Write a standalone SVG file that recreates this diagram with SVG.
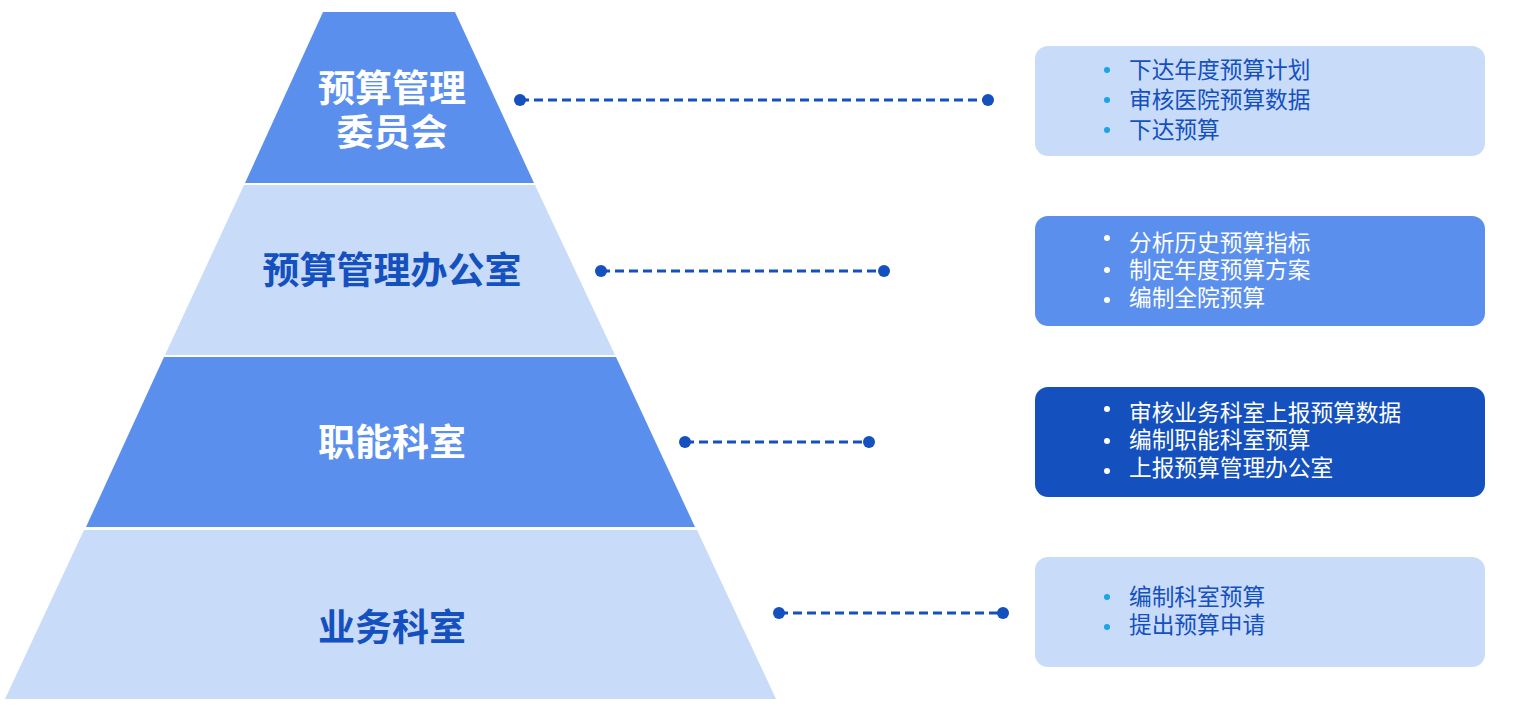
<svg xmlns="http://www.w3.org/2000/svg" width="1515" height="713" viewBox="0 0 1515 713">
<style>
.dark{fill:#5B8FED}
.light{fill:#C8DBF8}
.navy{fill:#1450BE}
.lbl{font-family:"Liberation Sans","Noto Sans CJK SC",sans-serif;font-weight:700;font-size:37px;text-anchor:middle}
.w{fill:#FFFFFF}
.b{fill:#1450BE}
.item{font-family:"Liberation Sans","Noto Sans CJK SC",sans-serif;font-size:22.7px}
.conn{stroke:#1450BE;stroke-width:3;stroke-dasharray:9 5;fill:none}
.dot{fill:#1450BE}
.bc{fill:#1AA3E8}
</style>
<rect width="1515" height="713" fill="#FFFFFF"/>
<g id="tier1">
<polygon class="dark" points="323,12 455,12 534,183 245,183"/>
<text class="lbl w" x="392" y="102">预算管理</text>
<text class="lbl w" x="392" y="146">委员会</text>
</g>
<g id="tier2">
<polygon class="light" points="244,185 535,185 615,355 165,355"/>
<text class="lbl b" x="392" y="284">预算管理办公室</text>
</g>
<g id="tier3">
<polygon class="dark" points="164,357 616,357 695,527 86,527"/>
<text class="lbl w" x="392" y="456">职能科室</text>
</g>
<g id="tier4">
<polygon class="light" points="84,530 697,530 776,699 5,699"/>
<text class="lbl b" x="392" y="641">业务科室</text>
</g>
<g id="connectors">
<line class="conn" x1="520" y1="100" x2="988" y2="100"/>
<circle class="dot" cx="520" cy="100" r="6"/>
<circle class="dot" cx="988" cy="100" r="6"/>
<line class="conn" x1="601" y1="271" x2="884" y2="271"/>
<circle class="dot" cx="601" cy="271" r="6"/>
<circle class="dot" cx="884" cy="271" r="6"/>
<line class="conn" x1="685" y1="442" x2="869" y2="442"/>
<circle class="dot" cx="685" cy="442" r="6"/>
<circle class="dot" cx="869" cy="442" r="6"/>
<line class="conn" x1="779" y1="613" x2="1003" y2="613"/>
<circle class="dot" cx="779" cy="613" r="6"/>
<circle class="dot" cx="1003" cy="613" r="6"/>
</g>
<g id="box1">
<rect class="light" x="1035" y="46" width="450" height="110" rx="13"/>
<circle class="bc" cx="1107" cy="70" r="3"/>
<circle class="bc" cx="1107" cy="100" r="3"/>
<circle class="bc" cx="1107" cy="130" r="3"/>
<text class="item b" x="1129" y="78">下达年度预算计划</text>
<text class="item b" x="1129" y="108">审核医院预算数据</text>
<text class="item b" x="1129" y="138">下达预算</text>
</g>
<g id="box2">
<rect class="dark" x="1035" y="216" width="450" height="110" rx="13"/>
<circle class="w" cx="1107" cy="238" r="3"/>
<circle class="w" cx="1107" cy="270" r="3"/>
<circle class="w" cx="1107" cy="300" r="3"/>
<text class="item w" x="1129" y="251">分析历史预算指标</text>
<text class="item w" x="1129" y="278">制定年度预算方案</text>
<text class="item w" x="1129" y="306">编制全院预算</text>
</g>
<g id="box3">
<rect class="navy" x="1035" y="387" width="450" height="110" rx="13"/>
<circle class="w" cx="1107" cy="409" r="3"/>
<circle class="w" cx="1107" cy="441" r="3"/>
<circle class="w" cx="1107" cy="471" r="3"/>
<text class="item w" x="1129" y="421">审核业务科室上报预算数据</text>
<text class="item w" x="1129" y="448">编制职能科室预算</text>
<text class="item w" x="1129" y="476">上报预算管理办公室</text>
</g>
<g id="box4">
<rect class="light" x="1035" y="557" width="450" height="110" rx="13"/>
<circle class="bc" cx="1107" cy="597" r="3"/>
<circle class="bc" cx="1107" cy="627" r="3"/>
<text class="item b" x="1129" y="605">编制科室预算</text>
<text class="item b" x="1129" y="633">提出预算申请</text>
</g>
</svg>
